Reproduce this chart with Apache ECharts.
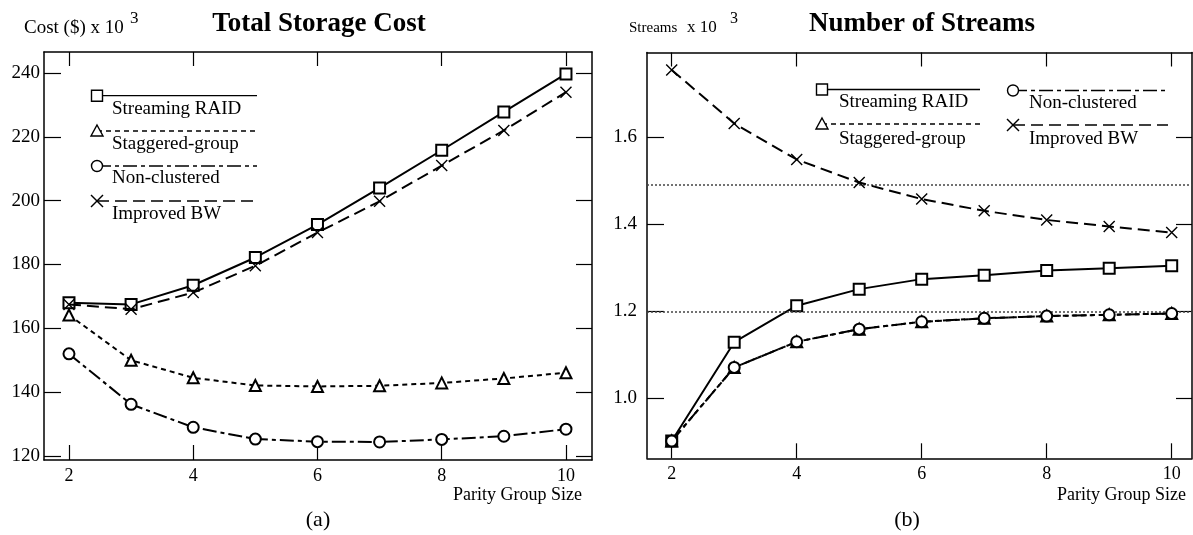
<!DOCTYPE html>
<html><head><meta charset="utf-8">
<script src="https://cdn.jsdelivr.net/npm/echarts@6/dist/echarts.min.js"></script>
<style>html,body{margin:0;padding:0;background:#fff}#c{width:1193px;height:535px}</style>
</head><body><div id="c"></div>
<script>
// ---- data ----
const groupSizes = [2, 3, 4, 5, 6, 7, 8, 9, 10];
// (a) Total Storage Cost, $ x 10^3
const costStreamingRAID = [168, 167.5, 173.5, 182.2, 192.5, 204, 215.8, 227.8, 239.7];
const costStaggered     = [164.2, 150, 144.5, 142.1, 141.8, 142, 142.9, 144.3, 146.1];
const costNonClustered  = [152, 136.2, 129, 125.3, 124.5, 124.4, 125.2, 126.2, 128.4];
const costImprovedBW    = [167.5, 166, 171.2, 179.6, 190, 199.8, 211, 222, 234];
// (b) Number of Streams, x 10^3
const strStreamingRAID = [0.902, 1.129, 1.213, 1.251, 1.274, 1.283, 1.294, 1.299, 1.305];
const strStaggered     = [0.902, 1.071, 1.130, 1.159, 1.176, 1.184, 1.189, 1.192, 1.195];
const strNonClustered  = [0.902, 1.071, 1.130, 1.159, 1.176, 1.184, 1.189, 1.192, 1.195];
const strImprovedBW    = [1.755, 1.632, 1.549, 1.496, 1.458, 1.431, 1.410, 1.395, 1.381];
const streamRefLevels = [1.49, 1.2];
// ticks
const xTicks = [2, 4, 6, 8, 10];
const costTicks = [120, 140, 160, 180, 200, 220, 240];
const streamTicks = [1.0, 1.2, 1.4, 1.6];
const seriesNames = ['Streaming RAID', 'Staggered-group', 'Non-clustered', 'Improved BW'];

// ---- styles ----
const FF = '"Liberation Serif", "Times New Roman", serif';
const K = '#000';
const dashes = ['solid', [5, 4], [14, 4, 4, 4], [12, 6]];
const symbols = ['emptyRect', 'emptyTriangle', 'emptyCircle', 'path://M0,0L10,10M10,0L0,10'];
const symSizes = [11, 11, 11, 11];

function pairs(arr) { return groupSizes.map((x, i) => [x, arr[i]]); }

function mkSeries(arrs, gi) {
  return arrs.map((arr, k) => ({
    type: 'line', name: seriesNames[k], xAxisIndex: gi * 2, yAxisIndex: gi * 2,
    data: pairs(arr), symbol: symbols[k], symbolSize: symSizes[k],
    lineStyle: { color: K, width: 2, type: dashes[k] },
    itemStyle: { color: k === 3 ? '#fff' : K, borderColor: K, borderWidth: 1.4 },
    z: 3 + k, animation: false
  }));
}

function xAxes(gi, min, max) {
  const common = { type: 'value', gridIndex: gi, min: min, max: max, splitLine: { show: false },
    axisLine: { show: true, onZero: false, lineStyle: { color: K, width: 1.5 } } };
  return [
    Object.assign({}, common, { position: 'bottom',
      axisTick: { show: true, inside: true, length: 15, customValues: xTicks, lineStyle: { color: K, width: 1.2 } },
      axisLabel: { customValues: xTicks, margin: 7, color: K, fontFamily: FF, fontSize: 18 } }),
    Object.assign({}, common, { position: 'top',
      axisTick: { show: true, inside: true, length: 14, customValues: xTicks, lineStyle: { color: K, width: 1.2 } },
      axisLabel: { show: false } })
  ];
}
function yAxes(gi, min, max, ticks, fmt, margin) {
  const common = { type: 'value', gridIndex: gi, min: min, max: max, splitLine: { show: false },
    axisLine: { show: true, onZero: false, lineStyle: { color: K, width: 1.5 } } };
  return [
    Object.assign({}, common, { position: 'left',
      axisTick: { show: true, inside: true, length: 17, customValues: ticks, lineStyle: { color: K, width: 1.2 } },
      axisLabel: { customValues: ticks, margin: margin, color: K, fontFamily: FF, fontSize: 19, formatter: fmt } }),
    Object.assign({}, common, { position: 'right',
      axisTick: { show: true, inside: true, length: 16, customValues: ticks, lineStyle: { color: K, width: 1.2 } },
      axisLabel: { show: false } })
  ];
}

// ---- legend graphics ----
function symbolGraphic(k, cx, cy) {
  const st = { fill: '#fff', stroke: K, lineWidth: 1.4 };
  if (k === 0) return { type: 'rect', shape: { x: cx - 5.5, y: cy - 5.5, width: 11, height: 11 }, style: st, z: 10 };
  if (k === 1) return { type: 'polygon', shape: { points: [[cx, cy - 6], [cx + 6, cy + 5], [cx - 6, cy + 5]] }, style: st, z: 10 };
  if (k === 2) return { type: 'circle', shape: { cx: cx, cy: cy, r: 5.5 }, style: st, z: 10 };
  return { type: 'group', z: 10, children: [
    { type: 'line', shape: { x1: cx - 6, y1: cy - 6, x2: cx + 6, y2: cy + 6 }, style: { stroke: K, lineWidth: 1.4 } },
    { type: 'line', shape: { x1: cx + 6, y1: cy - 6, x2: cx - 6, y2: cy + 6 }, style: { stroke: K, lineWidth: 1.4 } }
  ] };
}
function legendItem(k, x1, x2, ly, tx, ty) {
  const d = dashes[k];
  return [
    { type: 'line', shape: { x1: x1, y1: ly, x2: x2, y2: ly },
      style: { stroke: K, lineWidth: 1.3, lineDash: d === 'solid' ? null : d }, z: 9 },
    symbolGraphic(k, x1, ly),
    { type: 'text', x: tx, y: ty, style: { text: seriesNames[k], font: '19px ' + FF, fill: K, align: 'left', verticalAlign: 'middle' }, z: 10 }
  ];
}
function txt(text, x, y, font, align) {
  return { type: 'text', x: x, y: y, style: { text: text, font: font, fill: K, align: align || 'left', verticalAlign: 'middle' }, z: 10 };
}

const graphics = [].concat(
  // left legend
  legendItem(0, 97, 257, 95.7, 112, 109),
  legendItem(1, 97, 257, 131, 112, 144),
  legendItem(2, 97, 257, 166, 112, 178.5),
  legendItem(3, 97, 257, 201, 112, 214),
  // right legend
  legendItem(0, 822, 980, 89.5, 839, 102.5),
  legendItem(1, 822, 980, 124, 839, 139),
  legendItem(2, 1013, 1168, 90.5, 1029, 103.5),
  legendItem(3, 1013, 1168, 125, 1029, 139),
  [
    txt('Total Storage Cost', 319, 24, 'bold 27px ' + FF, 'center'),
    txt('Number of Streams', 922, 24, 'bold 27px ' + FF, 'center'),
    txt('Cost ($) x 10', 24, 28, '19px ' + FF),
    txt('3', 130, 19, '17px ' + FF),
    txt('Streams', 629, 28, '15px ' + FF),
    txt('x 10', 687, 28, '17px ' + FF),
    txt('3', 730, 19, '16px ' + FF),
    txt('Parity Group Size', 582, 495, '18px ' + FF, 'right'),
    txt('Parity Group Size', 1186, 495, '18px ' + FF, 'right'),
    txt('(a)', 318, 520, '22px ' + FF, 'center'),
    txt('(b)', 907, 520, '22px ' + FF, 'center')
  ]
);

const rightSeries = mkSeries([strStreamingRAID, strStaggered, strNonClustered, strImprovedBW], 1);
rightSeries[0].markLine = {
  silent: true, symbol: 'none', label: { show: false }, animation: false,
  lineStyle: { color: '#444', width: 1.5, type: [2, 2] },
  data: streamRefLevels.map(v => ({ yAxis: v }))
};

const option = {
  backgroundColor: '#fff',
  animation: false,
  grid: [
    { left: 44, top: 52, width: 548, height: 408, containLabel: false },
    { left: 647, top: 52.5, width: 545, height: 405.8, containLabel: false }
  ],
  xAxis: [].concat(xAxes(0, 1.598, 10.419), xAxes(1, 1.6048, 10.3248)),
  yAxis: [].concat(
    yAxes(0, 118.75, 246.58, costTicks, v => String(v), 4),
    yAxes(1, 0.8621, 1.795, streamTicks, v => v.toFixed(1), 10)
  ),
  series: [].concat(
    mkSeries([costStreamingRAID, costStaggered, costNonClustered, costImprovedBW], 0),
    rightSeries
  ),
  graphic: graphics
};

const chart = echarts.init(document.getElementById('c'), null, { renderer: 'canvas' });
chart.setOption(option);
</script>
</body></html>
